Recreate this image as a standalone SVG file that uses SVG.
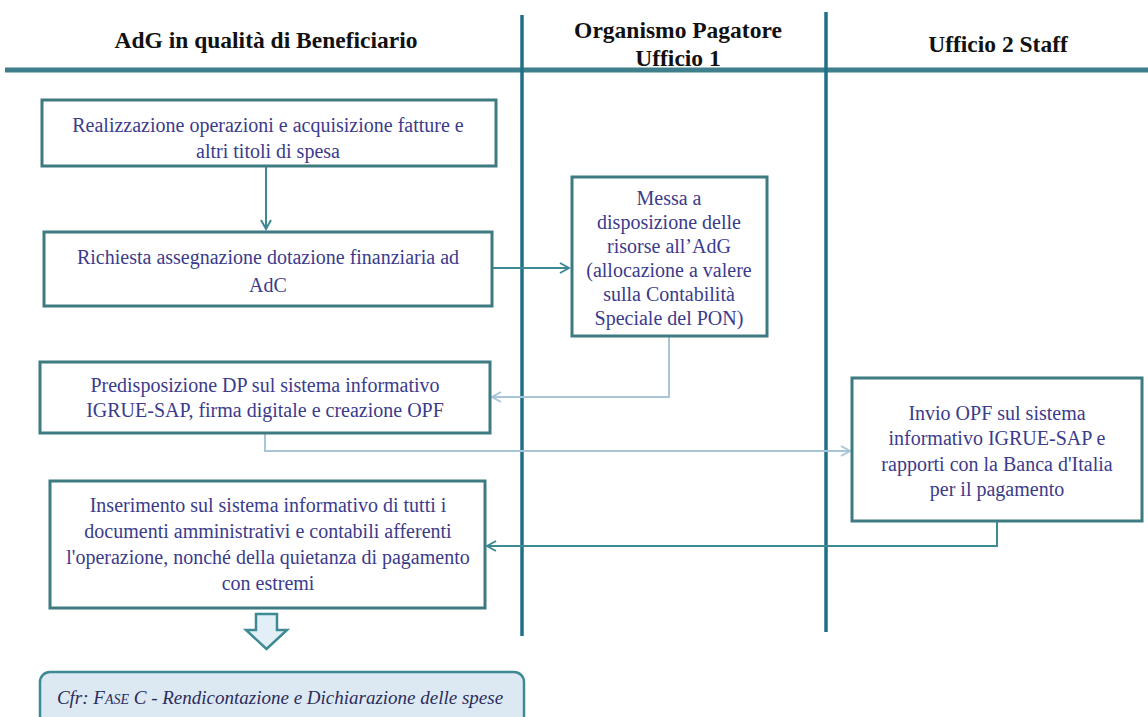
<svg xmlns="http://www.w3.org/2000/svg" width="1148" height="717" viewBox="0 0 1148 717">
<defs>
<style>
.hdr{font-family:"Liberation Serif","Times New Roman",Times,serif;font-weight:bold;font-size:23.5px;fill:#111;text-anchor:middle}
.box{fill:#fff;stroke:#3e7b80;stroke-width:3}
.t{font-family:"Liberation Serif","Times New Roman",Times,serif;font-size:20px;fill:#3b3b8c;text-anchor:middle}
.lane{stroke:#1f7088;stroke-width:3.5;fill:none}
.cd{stroke:#3e8a94;stroke-width:2;fill:none}
.cl{stroke:#a8c6d8;stroke-width:2;fill:none}
.ref{font-family:"Liberation Serif","Times New Roman",Times,serif;font-style:italic;font-size:19px;fill:#2c2c5c;text-anchor:middle}
</style>
<marker id="ad" markerWidth="12" markerHeight="12" refX="10" refY="6" orient="auto" markerUnits="userSpaceOnUse"><path d="M1,1 L10,6 L1,11" fill="none" stroke="#3e8a94" stroke-width="2"/></marker>
<marker id="al" markerWidth="12" markerHeight="12" refX="10" refY="6" orient="auto" markerUnits="userSpaceOnUse"><path d="M1,1 L10,6 L1,11" fill="none" stroke="#a8c6d8" stroke-width="2"/></marker>
</defs>
<rect width="1148" height="717" fill="#fff"/>
<g id="lanes">
<line x1="5" y1="70" x2="1148" y2="70" stroke="#3f7f8c" stroke-width="5"/>
<line x1="522" y1="15" x2="522" y2="636" class="lane"/>
<line x1="826" y1="12" x2="826" y2="632" class="lane"/>
<text class="hdr" x="266" y="48">AdG in qualità di Beneficiario</text>
<text class="hdr" x="678" y="38">Organismo Pagatore</text>
<text class="hdr" x="678" y="66">Ufficio 1</text>
<text class="hdr" x="998" y="52">Ufficio 2 Staff</text>
</g>
<g id="connectors">
<line x1="266" y1="166" x2="266" y2="229" class="cd" marker-end="url(#ad)"/>
<line x1="492" y1="268" x2="569" y2="268" class="cd" marker-end="url(#ad)"/>
<polyline points="669,336 669,397 492,397" class="cl" marker-end="url(#al)"/>
<polyline points="265,433 265,451 850,451" class="cl" marker-end="url(#al)"/>
<polyline points="997,521 997,546 487,546" class="cd" marker-end="url(#ad)"/>
</g>
<g id="n1">
<rect class="box" x="42" y="100" width="454" height="66"/>
<text class="t" x="268" y="132">Realizzazione operazioni e acquisizione fatture e</text>
<text class="t" x="268" y="158">altri titoli di spesa</text>
</g>
<g id="n2">
<rect class="box" x="44" y="232" width="448" height="74"/>
<text class="t" x="268" y="264">Richiesta assegnazione dotazione finanziaria ad</text>
<text class="t" x="268" y="292">AdC</text>
</g>
<g id="n3">
<rect class="box" x="572" y="177" width="195" height="159"/>
<text class="t" x="669" y="205">Messa a</text>
<text class="t" x="669" y="229">disposizione delle</text>
<text class="t" x="669" y="253">risorse all’AdG</text>
<text class="t" x="669" y="277">(allocazione a valere</text>
<text class="t" x="669" y="301">sulla Contabilità</text>
<text class="t" x="669" y="325">Speciale del PON)</text>
</g>
<g id="n4">
<rect class="box" x="40" y="362" width="450" height="71"/>
<text class="t" x="265" y="392">Predisposizione DP sul sistema informativo</text>
<text class="t" x="265" y="417">IGRUE-SAP, firma digitale e creazione OPF</text>
</g>
<g id="n5">
<rect class="box" x="852" y="378" width="290" height="143"/>
<text class="t" x="997" y="420">Invio OPF sul sistema</text>
<text class="t" x="997" y="445">informativo IGRUE-SAP e</text>
<text class="t" x="997" y="471">rapporti con la Banca d'Italia</text>
<text class="t" x="997" y="496">per il pagamento</text>
</g>
<g id="n6">
<rect class="box" x="50" y="481" width="435" height="127"/>
<text class="t" x="268" y="512">Inserimento sul sistema informativo di tutti i</text>
<text class="t" x="268" y="538">documenti amministrativi  e contabili afferenti</text>
<text class="t" x="268" y="564">l'operazione, nonché della quietanza di pagamento</text>
<text class="t" x="268" y="590">con estremi</text>
</g>
<g id="bigarrow">
<path d="M256,614 L277,614 L277,630 L287,630 L266.5,649 L246,630 L256,630 Z" fill="#e3eff6" stroke="#3e8a94" stroke-width="2.5"/>
</g>
<g id="ref">
<rect x="40" y="672" width="484" height="60" rx="10" fill="#dce9f3" stroke="#3e8a94" stroke-width="2.5"/>
<text class="ref" x="280" y="704">Cfr: F<tspan font-size="14">ASE</tspan> C - Rendicontazione e Dichiarazione delle spese</text>
</g>
</svg>
